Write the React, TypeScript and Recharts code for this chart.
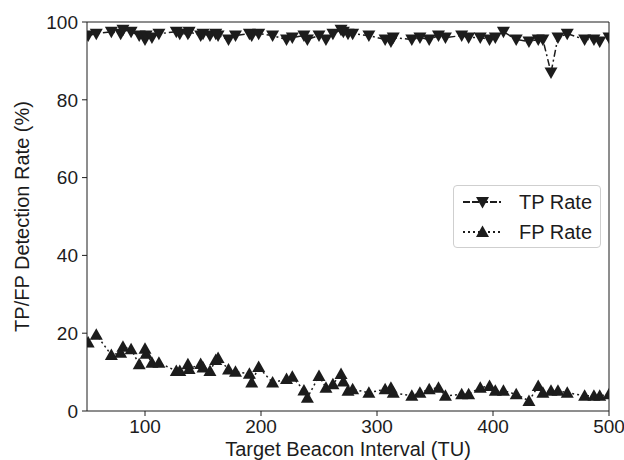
import { Line, LineChart, ReferenceLine, XAxis, YAxis } from "recharts";

const intervals = [
  51, 58, 71, 79, 81, 88, 95, 100, 101, 106, 112, 127, 130, 137, 138, 148, 150, 156, 161, 163,
  172, 178, 190, 192, 198, 210, 222, 227, 237, 240, 250, 256, 262, 269, 271, 275, 279, 293, 307,
  312, 314, 330, 337, 345, 353, 359, 373, 379, 389, 397, 402, 409, 420, 431, 439, 443, 450, 456,
  464, 479, 487, 492, 500,
];

const tpRate = [
  96.5, 97, 97.5, 97, 98, 97.5, 96.5, 95.5, 96.5, 96, 97, 97.5, 97, 97, 97.5, 96.5, 97, 96.5, 97,
  96.5, 95.5, 96.5, 97, 96.5, 97, 96.5, 95.5, 96, 96.5, 95.5, 96.5, 95.5, 97, 98, 97.5, 97, 97,
  96.5, 95.5, 95, 96, 95.5, 96, 95.5, 96.5, 96, 96.5, 96, 96, 95.5, 96, 97.5, 95.5, 95, 95.5,
  95.5, 87, 96, 97, 95.5, 95.5, 95, 96,
];

const fpRate = [
  17.6, 19.6, 14.4, 15, 16.5, 15.9, 12, 16, 14.7, 12.4, 12.4, 10.3, 10.3, 12, 10.8, 12.1, 11.2,
  10.3, 13.1, 13.6, 10.7, 10.1, 9.6, 7.3, 11.3, 7.3, 8.2, 8.8, 5.3, 3.4, 9, 6, 6.9, 9.5, 7.6,
  5.2, 5.6, 4.7, 5.6, 6, 4.7, 3.9, 4.7, 5.6, 6, 3.9, 4.3, 4.3, 6, 6.4, 5.2, 5.2, 4.3, 2.6, 6.4,
  4.7, 5.2, 5.2, 4.7, 3.9, 3.9, 3.9, 4.3,
];

const xTicks = [100, 200, 300, 400, 500];
const yTicks = [0, 20, 40, 60, 80, 100];

const data = intervals.map((interval, i) => ({ interval, tp: tpRate[i], fp: fpRate[i] }));

const INK = "#1c1c1c";
const FONT = '"Liberation Sans", Arial, Helvetica, sans-serif';

function TriDown({ cx, cy }: { cx?: number; cy?: number }) {
  if (cx == null || cy == null) return null;
  return <path d={`M${cx - 6.5},${cy - 5} L${cx + 6.5},${cy - 5} L${cx},${cy + 6.5} Z`} fill={INK} />;
}

function TriUp({ cx, cy }: { cx?: number; cy?: number }) {
  if (cx == null || cy == null) return null;
  return <path d={`M${cx - 6.5},${cy + 5} L${cx + 6.5},${cy + 5} L${cx},${cy - 6.5} Z`} fill={INK} />;
}

function LegendBox() {
  const rows = [
    { label: "TP Rate", dash: "7 2", Marker: TriDown },
    { label: "FP Rate", dash: "2 3", Marker: TriUp },
  ];
  return (
    <div
      style={{
        position: "absolute",
        left: 453,
        top: 185,
        width: 148,
        height: 63,
        boxSizing: "border-box",
        border: "1px solid #cfcfcf",
        borderRadius: 4,
        background: "#fff",
        fontFamily: FONT,
        fontSize: 20,
        color: INK,
      }}
    >
      {rows.map((row, i) => (
        <div key={row.label} style={{ position: "absolute", left: 0, top: 4 + i * 30, height: 24, width: 146 }}>
          <svg width={50} height={24} style={{ position: "absolute", left: 0, top: 0 }}>
            <line x1={9} x2={47} y1={12} y2={12} stroke={INK} strokeWidth={1.8} strokeDasharray={row.dash} />
            <row.Marker cx={28.5} cy={12} />
          </svg>
          <span style={{ position: "absolute", left: 65, top: 0, lineHeight: "24px", whiteSpace: "nowrap" }}>
            {row.label}
          </span>
        </div>
      ))}
    </div>
  );
}

export default function App() {
  return (
    <div style={{ position: "absolute", left: 0, top: 0, width: 624, height: 460, background: "#fff" }}>
      <LineChart width={624} height={460} data={data} margin={{ top: 22, right: 15, bottom: 0, left: 0 }}>
        <XAxis
          dataKey="interval"
          type="number"
          domain={[50, 500]}
          ticks={xTicks}
          allowDataOverflow
          height={49}
          stroke={INK}
          tickSize={5}
          tickMargin={4}
          tick={{ fill: INK, fontSize: 19, fontFamily: FONT }}
          label={{
            value: "Target Beacon Interval (TU)",
            position: "insideBottom",
            offset: 4,
            style: { fill: INK, fontSize: 20, fontFamily: FONT },
          }}
        />
        <YAxis
          type="number"
          domain={[0, 100]}
          ticks={yTicks}
          width={87}
          stroke={INK}
          tickSize={5}
          tickMargin={4}
          tick={{ fill: INK, fontSize: 19, fontFamily: FONT }}
          label={{
            value: "TP/FP Detection Rate (%)",
            angle: -90,
            position: "insideLeft",
            offset: 22,
            style: { fill: INK, fontSize: 20, fontFamily: FONT, textAnchor: "middle" },
          }}
        />
        <ReferenceLine y={100} stroke={INK} />
        <ReferenceLine x={500} stroke={INK} />
        <Line
          dataKey="tp"
          name="TP Rate"
          type="linear"
          stroke={INK}
          strokeWidth={1.5}
          strokeDasharray="7 3 2 3"
          dot={(p: any) => <TriDown key={`tp-${p.index}`} cx={p.cx} cy={p.cy} />}
          isAnimationActive={false}
        />
        <Line
          dataKey="fp"
          name="FP Rate"
          type="linear"
          stroke={INK}
          strokeWidth={1.5}
          strokeDasharray="2 3"
          dot={(p: any) => <TriUp key={`fp-${p.index}`} cx={p.cx} cy={p.cy} />}
          isAnimationActive={false}
        />
      </LineChart>
      <LegendBox />
    </div>
  );
}
